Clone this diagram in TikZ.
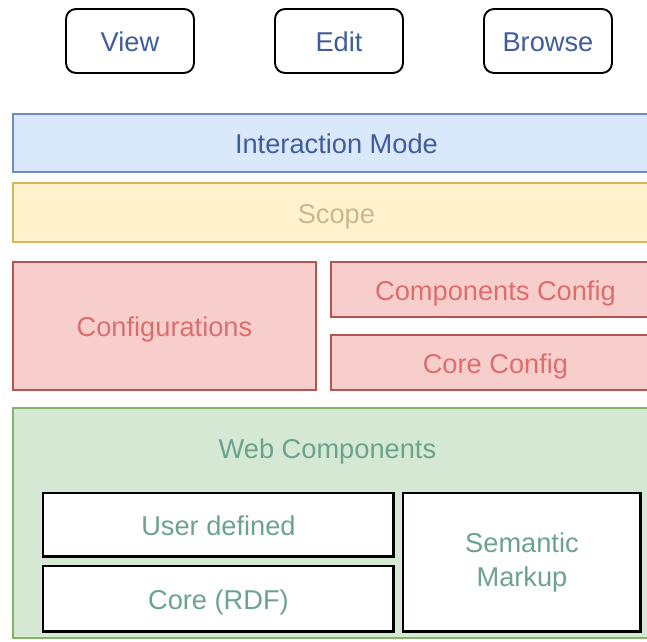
\documentclass[tikz,border=0pt]{standalone}
\usepackage{fontspec}
\setmainfont{Liberation Sans}
\usepackage{xcolor}
\usetikzlibrary{positioning}

\definecolor{modefill}{HTML}{DAE8FC}
\definecolor{modeline}{HTML}{6C8EBF}
\definecolor{modetext}{HTML}{3F5C9E}
\definecolor{scopefill}{HTML}{FFF2CC}
\definecolor{scopeline}{HTML}{D6B656}
\definecolor{scopetext}{HTML}{C8BA90}
\definecolor{conffill}{HTML}{F8CECC}
\definecolor{confline}{HTML}{B85450}
\definecolor{conftext}{HTML}{DC6E6E}
\definecolor{webfill}{HTML}{D5E8D4}
\definecolor{webline}{HTML}{82B366}
\definecolor{webtext}{HTML}{6BA38E}

\begin{document}
\begin{tikzpicture}[
  x=0.02cm, y=-0.02cm,
  every node/.style = {font=\fontsize{15.5}{19}\selectfont, inner sep=0pt, outer sep=0pt,
    text height=12.4pt, text depth=0.2pt},
  button/.style = {
    rectangle, rounded corners=0.2cm,
    draw=black, line width=1.1pt, fill=white,
    text=modetext, anchor=north west,
    minimum width=2.56cm, minimum height=1.28cm},
  layer/.style = {
    rectangle, line width=1.1pt, anchor=north west,
    minimum width=12.94cm},
  conf/.style = {
    rectangle, draw=confline, fill=conffill, line width=1.1pt,
    text=conftext, anchor=north west},
  part/.style = {
    rectangle, draw=black, fill=white, line width=1.7pt,
    text=webtext, anchor=north west, align=center}
  ]
\useasboundingbox (0,0) rectangle (647,642);
\clip (0,0) rectangle (647,642);

\node(view)[button] at (66,9) {View};
\node(edit)[button] at (275,9) {Edit};
\node(browse)[button] at (484,9) {Browse};

\node(mode)[layer,draw=modeline,fill=modefill,text=modetext,minimum height=1.16cm] at (13,114) {Interaction Mode};
\node(scope)[layer,draw=scopeline,fill=scopefill,text=scopetext,minimum height=1.18cm] at (13,183) {Scope};

\node(configs)[conf,minimum width=6.06cm,minimum height=2.56cm] at (13,262) {Configurations};
\node(compconf)[conf,minimum width=6.58cm,minimum height=1.1cm] at (331,262) {Components Config};
\node(coreconf)[conf,minimum width=6.58cm,minimum height=1.1cm] at (331,335) {Core Config};

\node(web)[layer,draw=webline,fill=webfill,minimum height=4.6cm] at (13,408) {};
\node(webtitle)[text=webtext,below=0.58cm of web.north,xshift=-0.18cm] {Web Components};

\node(user)[part,minimum width=7.02cm,minimum height=1.28cm] at (43,493) {User defined};
\node(core)[part,minimum width=7.02cm,minimum height=1.32cm] at (43,566) {Core (RDF)};
\node(markup)[part,text height={},text depth={},minimum width=4.76cm,minimum height=2.78cm] at (403,493) {Semantic\\Markup};

\end{tikzpicture}
\end{document}
